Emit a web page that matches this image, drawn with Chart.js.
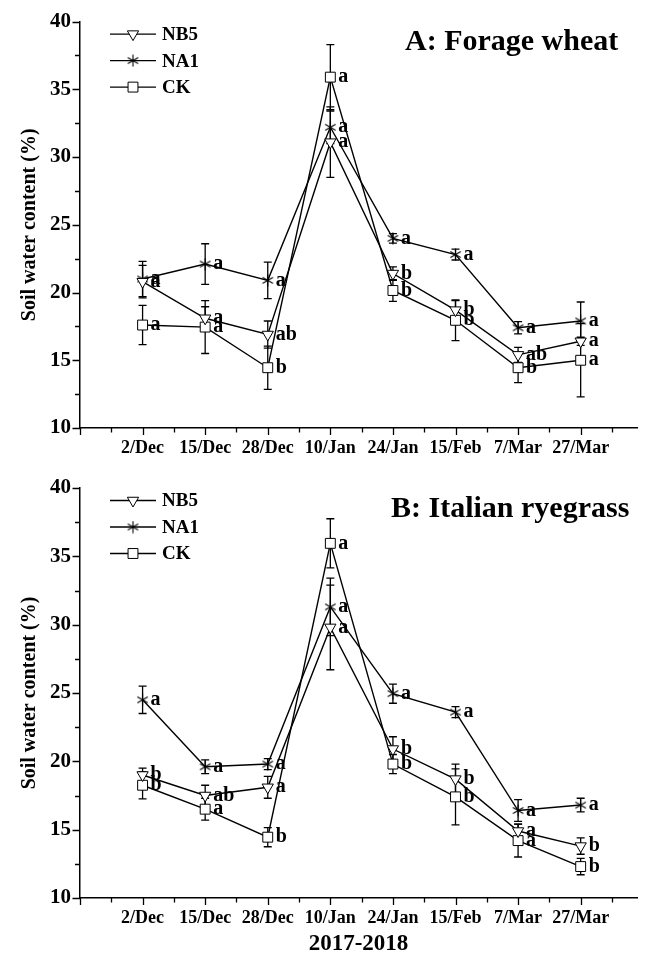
<!DOCTYPE html>
<html>
<head>
<meta charset="utf-8">
<title>Soil water content</title>
<script src="https://cdn.jsdelivr.net/npm/chart.js@4.4.1/dist/chart.umd.min.js"></script>
<style>
  html, body { margin: 0; padding: 0; background: #fff; }
  canvas { display: block; }
</style>
</head>
<body>
<canvas id="chartA" width="645" height="465"></canvas>
<canvas id="chartB" width="645" height="490"></canvas>
<script>
const dates = ['2/Dec', '15/Dec', '28/Dec', '10/Jan', '24/Jan', '15/Feb', '7/Mar', '27/Mar'];

// A: Forage wheat
const nb5A = [20.8, 18.1, 16.9, 31.1, 21.4, 18.7, 15.4, 16.4];
const nb5AErr = [1.2, 0.85, 1.0, 2.6, 0.5, 0.7, 0.55, 0.3];
const nb5ASig = ['a', 'a', 'ab', 'a', 'b', 'b', 'ab', 'a'];
const na1A = [21.0, 22.1, 20.9, 32.2, 24.0, 22.8, 17.4, 17.9];
const na1AErr = [1.3, 1.5, 1.35, 1.2, 0.35, 0.4, 0.45, 1.4];
const na1ASig = ['a', 'a', 'a', 'a', 'a', 'a', 'a', 'a'];
const ckA = [17.6, 17.45, 14.45, 35.9, 20.15, 17.95, 14.45, 15.0];
const ckAErr = [1.45, 1.95, 1.6, 2.4, 0.8, 1.5, 1.1, 2.7];
const ckASig = ['a', 'a', 'b', 'a', 'b', 'b', 'b', 'a'];

// B: Italian ryegrass
const nb5B = [19.0, 17.5, 18.1, 29.8, 20.9, 18.7, 14.9, 13.8];
const nb5BErr = [0.5, 0.75, 0.8, 3.1, 0.9, 1.1, 0.5, 0.6];
const nb5BSig = ['b', 'ab', 'a', 'a', 'b', 'b', 'a', 'b'];
const na1B = [24.5, 19.6, 19.8, 31.3, 24.95, 23.6, 16.4, 16.8];
const na1BErr = [1.0, 0.5, 0.4, 2.1, 0.7, 0.4, 0.8, 0.5];
const na1BSig = ['a', 'a', 'a', 'a', 'a', 'a', 'a', 'a'];
const ckB = [18.25, 16.5, 14.45, 35.95, 19.8, 17.4, 14.2, 12.3];
const ckBErr = [1.0, 0.8, 0.7, 1.8, 0.7, 2.05, 1.2, 0.6];
const ckBSig = ['b', 'a', 'b', 'a', 'b', 'b', 'a', 'b'];

const FONT = '"Liberation Serif", "Times New Roman", serif';

// six-armed asterisk used as the NA1 marker
function makeAsterisk(size) {
  const c = document.createElement('canvas');
  c.width = size; c.height = size;
  const g = c.getContext('2d');
  const r = size / 2 - 0.5;
  g.translate(size / 2, size / 2);
  g.strokeStyle = '#000';
  g.lineWidth = 1.1;
  g.beginPath();
  for (let k = 0; k < 3; k++) {
    const a = Math.PI / 2 + k * Math.PI / 3;
    g.moveTo(Math.cos(a) * r, Math.sin(a) * r);
    g.lineTo(-Math.cos(a) * r, -Math.sin(a) * r);
  }
  g.stroke();
  return c;
}
const asterisk = makeAsterisk(13);

function series(label, values, errors, sig, style) {
  const ds = {
    label,
    data: values.map((v, i) => ({ x: i + 1, y: v })),
    errors,
    sig,
    borderColor: '#000',
    borderWidth: 1.4,
    pointStyle: style,
    pointBackgroundColor: '#fff',
    pointBorderColor: '#000',
    pointBorderWidth: 1,
    pointRadius: 6.5,
    tension: 0,
    clip: false
  };
  if (style === 'triangle') ds.pointRotation = 180;
  if (style === 'rect') ds.pointRadius = 7;
  return ds;
}

const errorBars = {
  id: 'errorBars',
  beforeDatasetsDraw(chart) {
    const { ctx, scales: { x, y } } = chart;
    ctx.save();
    ctx.strokeStyle = '#000';
    ctx.lineWidth = 1.3;
    chart.data.datasets.forEach(ds => {
      ds.errors.forEach((e, i) => {
        const px = x.getPixelForValue(ds.data[i].x);
        const yt = y.getPixelForValue(ds.data[i].y + e);
        const yb = y.getPixelForValue(ds.data[i].y - e);
        ctx.beginPath();
        ctx.moveTo(px, yt); ctx.lineTo(px, yb);
        ctx.moveTo(px - 4, yt); ctx.lineTo(px + 4, yt);
        ctx.moveTo(px - 4, yb); ctx.lineTo(px + 4, yb);
        ctx.stroke();
      });
    });
    ctx.restore();
  }
};

const letters = {
  id: 'letters',
  afterDatasetsDraw(chart) {
    const { ctx, scales: { x, y } } = chart;
    ctx.save();
    ctx.fillStyle = '#000';
    ctx.font = 'bold 20px ' + FONT;
    ctx.textAlign = 'left';
    ctx.textBaseline = 'middle';
    chart.data.datasets.forEach(ds => {
      ds.sig.forEach((s, i) => {
        ctx.fillText(s, x.getPixelForValue(ds.data[i].x) + 8, y.getPixelForValue(ds.data[i].y));
      });
    });
    ctx.restore();
  }
};

// major / minor tick marks pointing outward
const axisTicks = {
  id: 'axisTicks',
  afterDraw(chart) {
    const { ctx, scales: { x, y } } = chart;
    ctx.save();
    ctx.strokeStyle = '#000';
    ctx.lineWidth = 1.3;
    ctx.beginPath();
    for (let v = 0; v <= 8.5; v += 0.5) {
      const px = Math.round(x.getPixelForValue(v)) + 0.5;
      const len = Number.isInteger(v) ? 7 : 4.5;
      ctx.moveTo(px, y.bottom); ctx.lineTo(px, y.bottom + len);
    }
    for (let v = 10; v <= 40; v += 2.5) {
      const py = Math.round(y.getPixelForValue(v)) + 0.5;
      const len = v % 5 === 0 ? 7.5 : 5;
      ctx.moveTo(x.left, py); ctx.lineTo(x.left - len, py);
    }
    ctx.stroke();
    ctx.restore();
  }
};

// panel title and in-plot legend
const panelDeco = {
  id: 'panelDeco',
  afterDraw(chart, args, opts) {
    const { ctx, chartArea } = chart;
    ctx.save();
    ctx.fillStyle = '#000';
    ctx.textAlign = 'left';
    ctx.textBaseline = 'alphabetic';
    ctx.font = 'bold 30px ' + FONT;
    ctx.fillText(opts.title, opts.titleX, chartArea.top + 28.5);

    ctx.font = 'bold 19px ' + FONT;
    ctx.textBaseline = 'middle';
    chart.data.datasets.forEach((ds, i) => {
      const ly = chartArea.top + 12.5 + i * 26.5;
      const lx = chartArea.left + 30;
      ctx.strokeStyle = '#000';
      ctx.lineWidth = 1.4;
      ctx.beginPath();
      ctx.moveTo(lx, ly); ctx.lineTo(lx + 46, ly);
      ctx.stroke();
      ctx.fillStyle = '#fff';
      ctx.lineWidth = 1;
      Chart.helpers.drawPoint(ctx, {
        pointStyle: ds.pointStyle,
        radius: ds.pointRadius,
        rotation: ds.pointRotation || 0,
        borderWidth: 1
      }, lx + 23, ly);
      ctx.fillStyle = '#000';
      ctx.fillText(ds.label, lx + 52, ly + 1);
    });
    ctx.restore();
  }
};

function makeChart(id, nb5, nb5Err, nb5Sig, na1, na1Err, na1Sig, ck, ckErr, ckSig, deco, topPad, xHeight, xTitle) {
  return new Chart(document.getElementById(id), {
    type: 'line',
    data: {
      datasets: [
        series('NB5', nb5, nb5Err, nb5Sig, 'triangle'),
        series('NA1', na1, na1Err, na1Sig, asterisk),
        series('CK', ck, ckErr, ckSig, 'rect')
      ]
    },
    options: {
      responsive: false,
      animation: false,
      devicePixelRatio: 1,
      layout: { padding: { top: topPad, left: 0, right: 0, bottom: 0 } },
      plugins: {
        legend: { display: false },
        tooltip: { enabled: false },
        panelDeco: deco
      },
      scales: {
        x: {
          type: 'linear',
          min: 0,
          max: 8.9,
          afterFit: s => { s.height = xHeight; s.paddingRight = 0; s.paddingLeft = 0; },
          grid: { display: false, drawTicks: false },
          border: { display: true, color: '#000', width: 1.5 },
          ticks: {
            stepSize: 1,
            autoSkip: false,
            maxRotation: 0,
            includeBounds: false,
            padding: 10,
            color: '#000',
            font: { family: FONT, weight: 'bold', size: 18 },
            callback: v => dates[v - 1] || ''
          },
          title: {
            display: !!xTitle,
            text: xTitle || '',
            color: '#000',
            padding: { top: 0, bottom: -3 },
            font: { family: FONT, weight: 'bold', size: 23 }
          }
        },
        y: {
          min: 10,
          max: 40,
          afterFit: s => { s.width = 80; },
          grid: { display: false, drawTicks: false },
          border: { display: true, color: '#000', width: 1.5 },
          ticks: {
            stepSize: 5,
            padding: 9,
            color: '#000',
            font: { family: FONT, weight: 'bold', size: 21 }
          },
          title: {
            display: true,
            text: 'Soil water content (%)',
            color: '#000',
            padding: { top: 18, bottom: 0 },
            font: { family: FONT, weight: 'bold', size: 20 }
          }
        }
      }
    },
    plugins: [errorBars, letters, axisTicks, panelDeco]
  });
}

makeChart('chartA', nb5A, nb5AErr, nb5ASig, na1A, na1AErr, na1ASig, ckA, ckAErr, ckASig,
  { title: 'A: Forage wheat', titleX: 405 }, 18, 37, '');
makeChart('chartB', nb5B, nb5BErr, nb5BSig, na1B, na1BErr, na1BSig, ckB, ckBErr, ckBSig,
  { title: 'B: Italian ryegrass', titleX: 391 }, 23, 57, '2017-2018');
</script>
</body>
</html>
